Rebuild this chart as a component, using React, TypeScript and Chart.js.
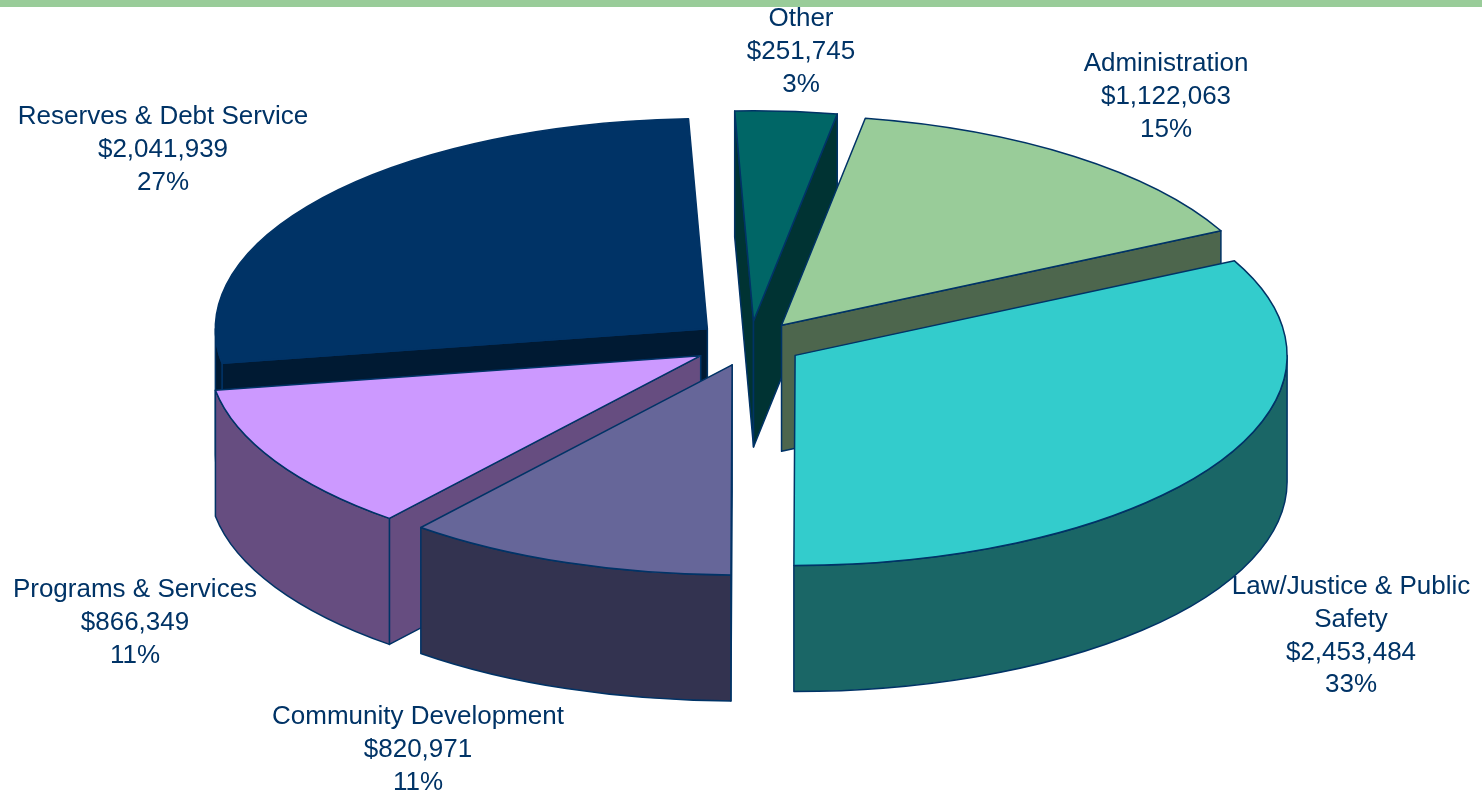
import React, { useEffect, useRef } from "react";
import { Chart, registerables } from "chart.js";

Chart.register(...registerables);

const categories = [
  "Administration",
  "Law/Justice & Public\nSafety",
  "Community Development",
  "Programs & Services",
  "Reserves & Debt Service",
  "Other",
];
const amounts = [1122063, 2453484, 820971, 866349, 2041939, 251745];
const percentLabels = ["15%", "33%", "11%", "11%", "27%", "3%"];
const topColors = ["#99CC99", "#33CCCC", "#666699", "#CC99FF", "#003366", "#006666"];
const wallColors = ["#4D664D", "#1A6666", "#333350", "#664D80", "#001A33", "#003333"];
const labelCentersX = [1166, 1351, 418, 135, 163, 801];
const labelFirstLineY = [64, 587, 717, 590, 117, 19];
const paintOrder = [4, 3, 2, 5, 0, 1];
const explodeBySlice = [53, 53, 53, 57, 55, 53];

const ROTATION_DEG = 9.8;
const RADIUS = 492;
const TILT = 0.427;
const DEPTH = 126;
const CENTER_Y = 343.5;
const LINE_HEIGHT = 32.7;
const NAVY = "#003366";
const FONT = '26px "Liberation Sans", Arial, sans-serif';

const pie3dPlugin = {
  id: "pie3d",
  beforeDatasetsDraw(chart: any) {
    const ctx: CanvasRenderingContext2D = chart.ctx;
    const arcs = chart.getDatasetMeta(0).data;
    ctx.save();
    ctx.lineWidth = 1.5;
    ctx.lineJoin = "round";
    ctx.strokeStyle = NAVY;
    for (const i of paintOrder) {
      const arc = arcs[i];
      const s = arc.startAngle;
      const e = arc.endAngle;
      const mid = (s + e) / 2;
      const ox = Math.cos(mid) * explodeBySlice[i];
      const oy = Math.sin(mid) * explodeBySlice[i];
      const cx = arc.x + ox;
      const cy = CENTER_Y + oy * TILT;
      const R = arc.outerRadius;
      const rim = (a: number) => [cx + R * Math.cos(a), cy + R * TILT * Math.sin(a)];

      const radialFace = (a: number) => {
        const [px, py] = rim(a);
        ctx.beginPath();
        ctx.moveTo(cx, cy);
        ctx.lineTo(px, py);
        ctx.lineTo(px, py + DEPTH);
        ctx.lineTo(cx, cy + DEPTH);
        ctx.closePath();
        ctx.fillStyle = wallColors[i];
        ctx.fill();
        ctx.stroke();
      };
      if (Math.cos(s) < 0) radialFace(s);
      if (Math.cos(e) > 0) radialFace(e);

      // outer wall: only the part of the rim that faces the viewer
      for (let k = -2; k <= 2; k++) {
        const lo = Math.max(s, k * 2 * Math.PI);
        const hi = Math.min(e, k * 2 * Math.PI + Math.PI);
        if (hi <= lo) continue;
        ctx.beginPath();
        ctx.ellipse(cx, cy, R, R * TILT, 0, lo, hi);
        ctx.ellipse(cx, cy + DEPTH, R, R * TILT, 0, hi, lo, true);
        ctx.closePath();
        ctx.fillStyle = wallColors[i];
        ctx.fill();
        ctx.stroke();
      }

      // top face: the library's own arc element, squashed and moved out
      ctx.save();
      ctx.translate(ox, CENTER_Y + oy * TILT);
      ctx.scale(1, TILT);
      ctx.translate(0, -arc.y);
      arc.draw(ctx);
      ctx.restore();

      ctx.beginPath();
      ctx.moveTo(cx, cy);
      ctx.ellipse(cx, cy, R, R * TILT, 0, s, e);
      ctx.closePath();
      ctx.stroke();
    }
    ctx.restore();
    return false;
  },
  afterDraw(chart: any) {
    const ctx: CanvasRenderingContext2D = chart.ctx;
    ctx.save();
    ctx.font = FONT;
    ctx.fillStyle = NAVY;
    ctx.textAlign = "center";
    ctx.textBaseline = "middle";
    categories.forEach((name, i) => {
      const lines = [
        ...name.split("\n"),
        "$" + amounts[i].toLocaleString("en-US"),
        percentLabels[i],
      ];
      lines.forEach((line, j) => {
        ctx.fillText(line, labelCentersX[i], labelFirstLineY[i] + j * LINE_HEIGHT);
      });
    });
    ctx.restore();
  },
};

export default function App() {
  const ref = useRef<HTMLCanvasElement>(null);
  useEffect(() => {
    document.body.style.margin = "0";
    const chart = new Chart(ref.current!, {
      type: "pie",
      data: {
        labels: categories.map((c) => c.replace("\n", " ")),
        datasets: [
          {
            data: amounts,
            backgroundColor: topColors,
            borderWidth: 0,
            clip: false,
          } as any,
        ],
      },
      options: {
        animation: false,
        responsive: false,
        rotation: ROTATION_DEG,
        radius: RADIUS,
        layout: { padding: { left: 18 } },
        plugins: { legend: { display: false }, tooltip: { enabled: false }, title: { display: false } },
      } as any,
      plugins: [pie3dPlugin as any],
    });
    return () => chart.destroy();
  }, []);
  return (
    <div style={{ position: "fixed", left: 0, top: 0, width: 1482, height: 793, background: "#fff", overflow: "hidden" }}>
      <div style={{ position: "absolute", left: 0, top: 0, width: 1482, height: 7, background: "#99CC99" }} />
      <canvas ref={ref} width={1482} height={793} style={{ display: "block", width: 1482, height: 793 }} />
    </div>
  );
}
